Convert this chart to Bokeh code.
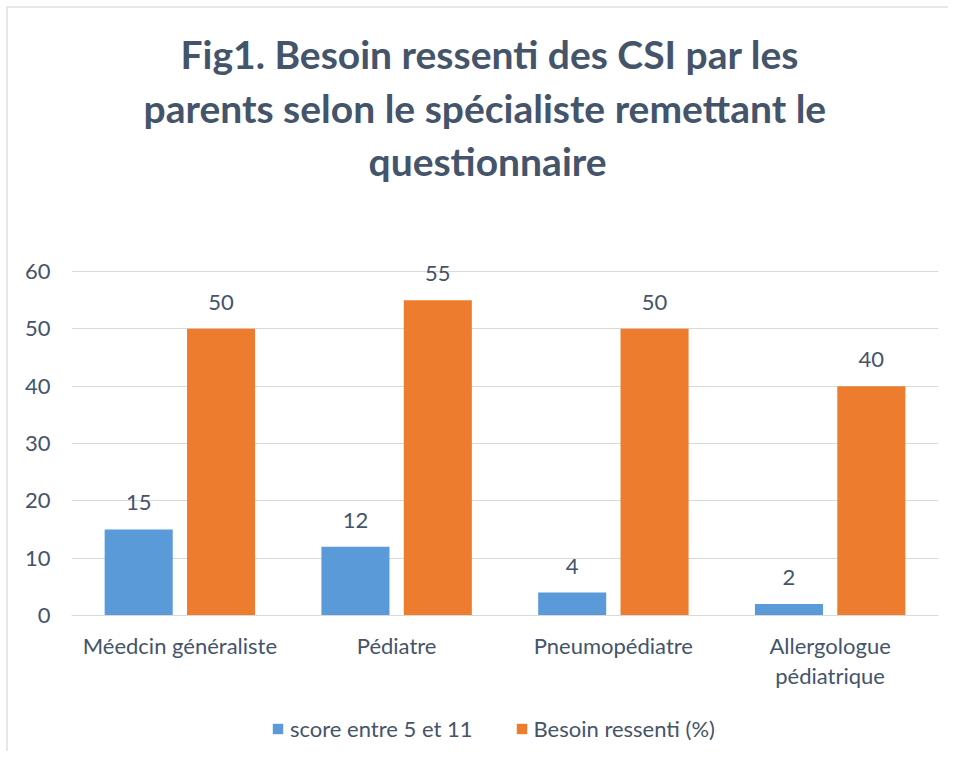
from bokeh.plotting import figure
from bokeh.models import ColumnDataSource, LabelSet, Legend, LegendItem, Range1d, Title
from bokeh.core.properties import value
from bokeh.transform import dodge
from bokeh.embed import file_html
from bokeh.resources import INLINE

categories = ["Méedcin généraliste", "Pédiatre", "Pneumopédiatre", "Allergologue\npédiatrique"]
score = [15, 12, 4, 2]
besoin = [50, 55, 50, 40]
series_names = ["score entre 5 et 11", "Besoin ressenti (%)"]
y_ticks = [0, 10, 20, 30, 40, 50, 60]
title_lines = ["Fig1. Besoin ressenti des CSI par les",
               "parents selon le spécialiste remettant le",
               "questionnaire"]

TXT = "#44546A"
FONT = "Lato"
FS = "22px"

src = ColumnDataSource(dict(cat=categories, score=score, besoin=besoin,
                            score_lbl=[str(v) for v in score],
                            besoin_lbl=[str(v) for v in besoin]))

# y range extends below 0 so that the category labels and legend sit inside the frame
p = figure(x_range=categories, y_range=Range1d(-23.72, 62.09),
           output_backend="svg", toolbar_location=None,
           frame_width=867, frame_height=492,
           min_border_left=63, min_border_right=10, min_border_top=251, min_border_bottom=0)

def ttl(t, standoff, offset, size="39px"):
    return Title(text=t, align="left", offset=offset, text_font=FONT, text_font_size=size,
                 text_font_style="bold", text_color=TXT, standoff=standoff)

p.title = ttl(title_lines[0], 3, 109)
p.add_layout(ttl(" ", 35, 0, "31px"), "above")
p.add_layout(ttl(title_lines[2], 1, 297), "above")
p.add_layout(ttl(title_lines[1], 9, 72), "above")

b1 = p.vbar(x=dodge("cat", -0.19, range=p.x_range), top="score", width=0.314,
            source=src, fill_color="#5A9AD8", line_color=None)
b2 = p.vbar(x=dodge("cat", 0.19, range=p.x_range), top="besoin", width=0.314,
            source=src, fill_color="#EE7C2E", line_color=None)

for col, lbl, off in (("score", "score_lbl", -0.19), ("besoin", "besoin_lbl", 0.19)):
    p.add_layout(LabelSet(x=dodge("cat", off, range=p.x_range), y=col, text=lbl, source=src,
                          y_offset=19, text_align="center", text_baseline="bottom",
                          text_font=value(FONT), text_font_size=value(FS),
                          text_color=TXT))

p.outline_line_color = None
p.xgrid.grid_line_color = None
p.ygrid.grid_line_color = "#D9D9D9"
p.ygrid.grid_line_width = 1
p.ygrid.ticker = y_ticks
p.yaxis.ticker = y_ticks
p.yaxis.axis_line_color = None
p.yaxis.major_tick_line_color = None
p.yaxis.minor_tick_line_color = None
p.yaxis.major_label_standoff = 15
p.xaxis.fixed_location = 0
p.xaxis.axis_line_color = "#D9D9D9"
p.xaxis.major_tick_line_color = None
p.xaxis.minor_tick_line_color = None
p.xaxis.major_label_standoff = 11
p.xaxis.major_label_text_line_height = 1.1
for ax in (p.xaxis, p.yaxis):
    ax.major_label_text_font = FONT
    ax.major_label_text_font_size = FS
    ax.major_label_text_color = TXT
    ax.major_label_text_font_style = "normal"

legend = Legend(items=[LegendItem(label=series_names[0], renderers=[b1]),
                       LegendItem(label=series_names[1], renderers=[b2])],
                orientation="horizontal", location=(200, 9),
                label_text_font=FONT, label_text_font_size=FS, label_text_color=TXT,
                glyph_width=13, glyph_height=13, spacing=42, border_line_color=None,
                background_fill_alpha=0, margin=0, padding=0, label_standoff=6)
p.add_layout(legend, "center")

p.styles = {"border-left": "2px solid #E4E7EC", "border-top": "2px solid #E4E7EC",
            "margin-left": "6px", "margin-top": "6px"}

open("out.html", "w").write(file_html(p, INLINE))
